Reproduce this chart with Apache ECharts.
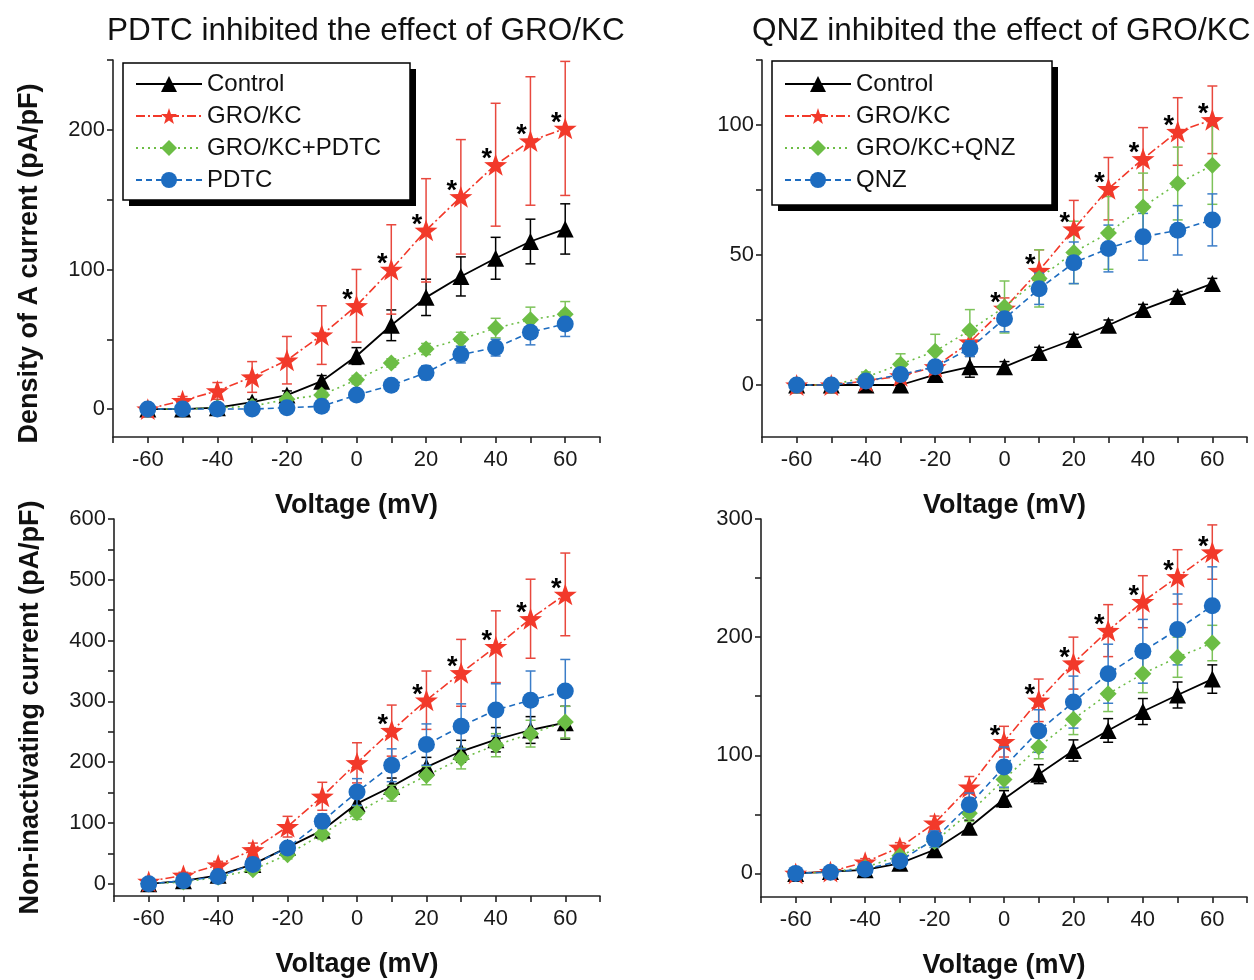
<!DOCTYPE html>
<html>
<head>
<meta charset="utf-8">
<script src="https://cdn.jsdelivr.net/npm/echarts@6/dist/echarts.min.js"></script>
<style>
html,body{margin:0;padding:0;background:#fff;}
#chart{width:1254px;height:980px;}
</style>
</head>
<body>
<div id="chart"></div>
<script>
// ---------- data ----------
const voltages = [-60, -50, -40, -30, -20, -10, 0, 10, 20, 30, 40, 50, 60];
const xTickValues = [-70, -60, -50, -40, -30, -20, -10, 0, 10, 20, 30, 40, 50, 60, 70];
const xLabelValues = [-60, -40, -20, 0, 20, 40, 60];

// Panel A: PDTC, density of A current
const pdtcA_control    = [0, 0, 1, 5, 10, 20, 38, 60, 80, 95, 108, 120, 129];
const pdtcA_controlErr = [1, 1, 1, 2, 3, 4, 6, 11, 13, 14, 15, 16, 18];
const pdtcA_gro        = [0, 6, 13, 23, 35, 53, 74, 100, 128, 152, 175, 192, 201];
const pdtcA_groErr     = [2, 3, 6, 11, 17, 21, 26, 32, 37, 41, 44, 46, 48];
const pdtcA_groPdtc    = [0, 0, 1, 2, 7, 10, 21, 33, 43, 50, 58, 64, 68];
const pdtcA_groPdtcErr = [1, 1, 1, 2, 2, 3, 3, 3, 4, 5, 7, 9, 9];
const pdtcA_pdtc       = [0, 0, 0, 0, 1, 2, 10, 17, 26, 39, 44, 55, 61];
const pdtcA_pdtcErr    = [1, 1, 1, 1, 2, 2, 3, 4, 5, 6, 6, 9, 9];
const pdtcA_sig        = [0, 10, 20, 30, 40, 50, 60];

// Panel B: QNZ, density of A current
const qnzA_control    = [0, 0, 0, 0, 4, 7, 7, 12.5, 17.5, 23, 29, 34, 39];
const qnzA_controlErr = [1, 1, 1, 1, 2, 4, 2, 2, 2, 2, 2, 2, 2];
const qnzA_gro        = [0, 0, 1.5, 3.5, 7, 16.5, 29.5, 44, 60, 75.5, 87, 97.5, 102];
const qnzA_groErr     = [1, 1, 1, 1, 2, 3, 4, 8, 11, 12, 12, 13, 13];
const qnzA_groQnz     = [0, 0, 3, 8, 13, 21, 30, 41, 51, 58.5, 68.5, 77.5, 84.5];
const qnzA_groQnzErr  = [1, 1, 2, 4, 6.5, 8, 10, 11, 12, 14, 13, 14, 15];
const qnzA_qnz        = [0, 0, 1.5, 4, 7, 14, 25.5, 37, 47, 52.5, 57, 59.5, 63.5];
const qnzA_qnzErr     = [1, 1, 1, 2, 2, 3, 5, 6, 8, 9, 9, 9.5, 10];
const qnzA_sig        = [0, 10, 20, 30, 40, 50, 60];

// Panel C: PDTC, non-inactivating current
const pdtcN_control    = [0, 5, 14, 32, 60, 88, 132, 160, 192, 218, 237, 253, 265];
const pdtcN_controlErr = [2, 3, 4, 5, 7, 9, 12, 14, 16, 18, 20, 22, 27];
const pdtcN_gro        = [4, 14, 31, 56, 94, 144, 199, 252, 302, 347, 390, 436, 476];
const pdtcN_groErr     = [4, 5, 6, 11, 17, 23, 33, 42, 48, 55, 59, 65, 68];
const pdtcN_groPdtc    = [0, 3, 11, 23, 48, 82, 117, 149, 178, 206, 228, 247, 266];
const pdtcN_groPdtcErr = [2, 3, 4, 5, 7, 9, 11, 13, 15, 17, 19, 22, 26];
const pdtcN_pdtc       = [0, 5, 12, 32, 59, 103, 151, 195, 229, 259, 286, 302, 317];
const pdtcN_pdtcErr    = [2, 3, 5, 7, 9, 12, 22, 27, 34, 37, 43, 48, 52];
const pdtcN_sig        = [10, 20, 30, 40, 50, 60];

// Panel D: QNZ, non-inactivating current
const qnzN_control    = [0, 1.5, 3, 8.5, 20, 39, 63, 84, 104, 121, 137, 151, 164.5];
const qnzN_controlErr = [1, 2, 2, 3, 4, 6, 7, 8, 9, 10, 11, 11, 12];
const qnzN_gro        = [0, 1.5, 9.5, 22, 42.5, 73, 111.5, 146.5, 178, 205.5, 230, 251, 272];
const qnzN_groErr     = [1, 2, 3, 4, 6, 9, 13, 18, 22, 22, 22, 23, 23];
const qnzN_groQnz     = [0, 1, 5, 15, 27, 51, 79.5, 107, 130.5, 152, 169, 183, 195];
const qnzN_groQnzErr  = [1, 2, 2, 4, 5, 7, 8, 10, 13, 15, 16, 17, 15];
const qnzN_qnz        = [0, 1, 3.5, 10.5, 29, 58, 90, 120.5, 145, 169, 188, 206.5, 226.5];
const qnzN_qnzErr     = [1, 2, 2, 4, 7, 10, 17, 18, 22, 25, 27, 30, 33];
const qnzN_sig        = [0, 10, 20, 30, 40, 50, 60];

const titles = ['PDTC inhibited the effect of GRO/KC', 'QNZ inhibited the effect of GRO/KC'];
const xName = 'Voltage (mV)';
const yNames = ['Density of A current (pA/pF)', 'Non-inactivating current (pA/pF)'];
const legendA = ['Control', 'GRO/KC', 'GRO/KC+PDTC', 'PDTC'];
const legendB = ['Control', 'GRO/KC', 'GRO/KC+QNZ', 'QNZ'];

// y-axis ticks/labels per panel
const yTicksA = [0, 50, 100, 150, 200, 250];
const yLabelsA = [0, 100, 200];
const yTicksB = [0, 25, 50, 75, 100, 125];
const yLabelsB = [0, 50, 100];
const yTicksC = [0, 50, 100, 150, 200, 250, 300, 350, 400, 450, 500, 550, 600];
const yLabelsC = [0, 100, 200, 300, 400, 500, 600];
const yTicksD = [0, 50, 100, 150, 200, 250, 300];
const yLabelsD = [0, 100, 200, 300];

// ---------- layout & style ----------
const FONT = "'Liberation Sans', Arial, Helvetica, sans-serif";
const STAR = 'path://M0,-10 L2.35,-3.24 L9.51,-3.09 L3.8,1.24 L5.88,8.09 L0,4 L-5.88,8.09 L-3.8,1.24 L-9.51,-3.09 L-2.35,-3.24 Z';
const groupStyles = [
  { color: '#000000', err: '#000000', symbol: 'triangle', size: 17, dash: 'solid', z: 3 },
  { color: '#f2392a', err: '#e8483e', symbol: STAR, size: 23, dash: [9, 3, 2, 3], z: 4 },
  { color: '#6cbd45', err: '#7dc35a', symbol: 'diamond', size: 17, dash: [2, 4], z: 5 },
  { color: '#1d6cc0', err: '#3b7dc8', symbol: 'circle', size: 17, dash: [6, 4], z: 6 }
];

const panels = [
  { grid: { left: 113, top: 60, width: 487, height: 377 }, yMin: -20, yMax: 250, yTicks: yTicksA, yLabels: yLabelsA,
    names: legendA, vals: [pdtcA_control, pdtcA_gro, pdtcA_groPdtc, pdtcA_pdtc],
    errs: [pdtcA_controlErr, pdtcA_groErr, pdtcA_groPdtcErr, pdtcA_pdtcErr], sig: pdtcA_sig, yName: yNames[0], yShift: 30 },
  { grid: { left: 762, top: 60, width: 485, height: 377 }, yMin: -20, yMax: 125, yTicks: yTicksB, yLabels: yLabelsB,
    names: legendB, vals: [qnzA_control, qnzA_gro, qnzA_groQnz, qnzA_qnz],
    errs: [qnzA_controlErr, qnzA_groErr, qnzA_groQnzErr, qnzA_qnzErr], sig: qnzA_sig, yName: '', yShift: 0 },
  { grid: { left: 114, top: 519, width: 486, height: 377 }, yMin: -20, yMax: 600, yTicks: yTicksC, yLabels: yLabelsC,
    names: legendA, vals: [pdtcN_control, pdtcN_gro, pdtcN_groPdtc, pdtcN_pdtc],
    errs: [pdtcN_controlErr, pdtcN_groErr, pdtcN_groPdtcErr, pdtcN_pdtcErr], sig: pdtcN_sig, yName: yNames[1], yShift: 0 },
  { grid: { left: 761, top: 519, width: 486, height: 378 }, yMin: -20, yMax: 300, yTicks: yTicksD, yLabels: yLabelsD,
    names: legendB, vals: [qnzN_control, qnzN_gro, qnzN_groQnz, qnzN_qnz],
    errs: [qnzN_controlErr, qnzN_groErr, qnzN_groQnzErr, qnzN_qnzErr], sig: qnzN_sig, yName: '', yShift: 0 }
];

const axisLineStyle = { color: '#222', width: 1.6 };

const grids = [], xAxes = [], yAxes = [], series = [];

panels.forEach((p, pi) => {
  grids.push(p.grid);
  xAxes.push({
    type: 'value', gridIndex: pi, min: -70, max: 70,
    name: xName, nameLocation: 'middle', nameGap: 55,
    nameTextStyle: { fontFamily: FONT, fontWeight: 'bold', fontSize: 27, color: '#111' },
    axisLine: { show: true, onZero: false, lineStyle: axisLineStyle },
    axisTick: { show: true, inside: false, length: 6, lineStyle: axisLineStyle, customValues: xTickValues },
    axisLabel: { show: true, fontFamily: FONT, fontSize: 22, color: '#1a1a1a', margin: 12, customValues: xLabelValues },
    splitLine: { show: false }
  });
  yAxes.push({
    type: 'value', gridIndex: pi, min: p.yMin, max: p.yMax,
    name: p.yName, nameLocation: 'middle', nameGap: 70, nameRotate: 90,
    nameTextStyle: { fontFamily: FONT, fontWeight: 'bold', fontSize: 27, color: '#111', padding: [0, p.yShift, 0, 0] },
    axisLine: { show: true, onZero: false, lineStyle: axisLineStyle },
    axisTick: { show: true, inside: false, length: 6, lineStyle: axisLineStyle, customValues: p.yTicks },
    axisLabel: { show: true, fontFamily: FONT, fontSize: 22, color: '#1a1a1a', margin: 8, customValues: p.yLabels },
    splitLine: { show: false }
  });

  // error bars
  p.vals.forEach((vals, gi) => {
    const st = groupStyles[gi];
    const data = voltages.map((v, i) => [v, vals[i], p.errs[gi][i]]);
    series.push({
      type: 'custom', name: p.names[gi] + ' SEM', xAxisIndex: pi, yAxisIndex: pi, z: st.z - 1,
      silent: true, legendHoverLink: false,
      encode: { x: 0, y: 1 },
      data: data,
      renderItem: function (params, api) {
        const x = api.value(0), y = api.value(1), e = api.value(2);
        const t = api.coord([x, y + e]);
        const b = api.coord([x, y - e]);
        const cap = 5;
        const s = { stroke: st.err, lineWidth: 1.5 };
        return { type: 'group', children: [
          { type: 'line', shape: { x1: t[0], y1: t[1], x2: b[0], y2: b[1] }, style: s },
          { type: 'line', shape: { x1: t[0] - cap, y1: t[1], x2: t[0] + cap, y2: t[1] }, style: s },
          { type: 'line', shape: { x1: b[0] - cap, y1: b[1], x2: b[0] + cap, y2: b[1] }, style: s }
        ]};
      }
    });
  });

  // lines with markers
  p.vals.forEach((vals, gi) => {
    const st = groupStyles[gi];
    series.push({
      type: 'line', name: p.names[gi], xAxisIndex: pi, yAxisIndex: pi, z: st.z,
      data: voltages.map((v, i) => [v, vals[i]]),
      symbol: st.symbol, symbolSize: st.size, symbolKeepAspect: true,
      showAllSymbol: true, animation: false,
      lineStyle: { color: st.color, width: gi === 0 ? 1.8 : 1.6, type: st.dash },
      itemStyle: { color: st.color, borderWidth: 0 },
      emphasis: { disabled: true }
    });
  });

  // significance asterisks above GRO/KC
  const groVals = p.vals[1];
  series.push({
    type: 'custom', name: 'significance', xAxisIndex: pi, yAxisIndex: pi, z: 10, silent: true,
    encode: { x: 0, y: 1 },
    data: p.sig.map(v => [v, groVals[voltages.indexOf(v)]]),
    renderItem: function (params, api) {
      const c = api.coord([api.value(0), api.value(1)]);
      return { type: 'text', style: { text: '*', x: c[0] - 9, y: c[1] - 5, fill: '#000',
        font: 'bold 27px ' + FONT, textAlign: 'center', textVerticalAlign: 'middle' } };
    }
  });
});

const legendCommon = {
  orient: 'vertical', itemWidth: 66, itemHeight: 20, itemGap: 8, selectedMode: false,
  padding: 0, backgroundColor: 'transparent', borderWidth: 0, z: 20,
  textStyle: { fontFamily: FONT, fontSize: 24, color: '#111', lineHeight: 24 }
};

// legend frames (box with solid drop shadow)
const legendFrames = [
  { x: 123, y: 63, w: 287, h: 137 },
  { x: 772, y: 61, w: 280, h: 144 }
];
const graphics = [];
legendFrames.forEach(f => {
  graphics.push({ type: 'rect', z: 15, shape: { x: f.x + 6, y: f.y + 6, width: f.w, height: f.h }, style: { fill: '#000' } });
  graphics.push({ type: 'rect', z: 16, shape: { x: f.x, y: f.y, width: f.w, height: f.h }, style: { fill: '#fff', stroke: '#000', lineWidth: 1.5 } });
});

const option = {
  backgroundColor: '#ffffff',
  animation: false,
  title: [
    { text: titles[0], left: 102, top: 10, textStyle: { fontFamily: FONT, fontWeight: 'normal', fontSize: 31.5, color: '#111' } },
    { text: titles[1], left: 747, top: 10, textStyle: { fontFamily: FONT, fontWeight: 'normal', fontSize: 31.5, color: '#111' } }
  ],
  legend: [
    Object.assign({}, legendCommon, { left: 135, top: 72, data: legendA }),
    Object.assign({}, legendCommon, { left: 784, top: 72, data: legendB })
  ],
  graphic: graphics,
  grid: grids,
  xAxis: xAxes,
  yAxis: yAxes,
  series: series
};

const chart = echarts.init(document.getElementById('chart'), null, { renderer: 'canvas' });
chart.setOption(option);
</script>
</body>
</html>
